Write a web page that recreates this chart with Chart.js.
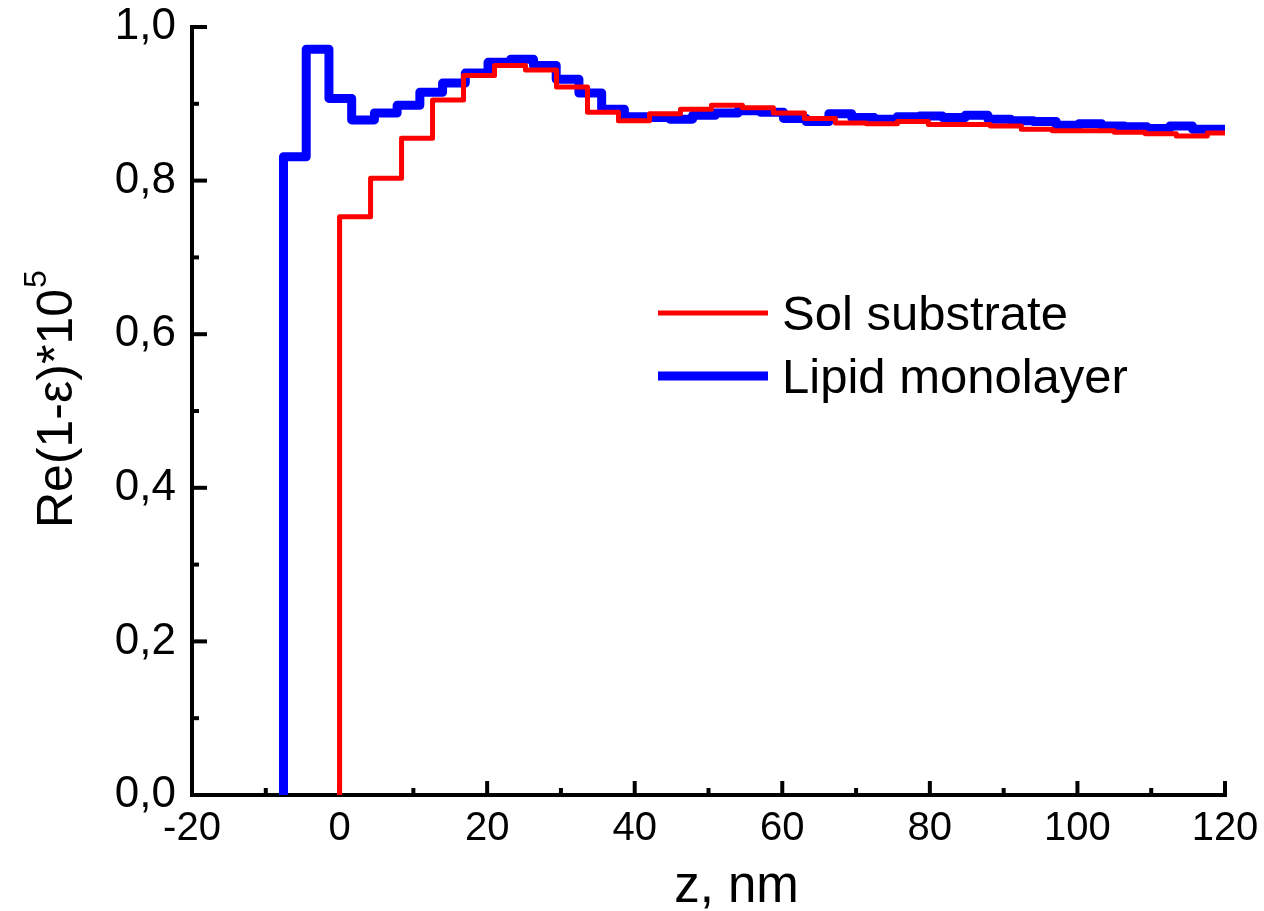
<!DOCTYPE html>
<html>
<head>
<meta charset="utf-8">
<script src="https://cdn.jsdelivr.net/npm/chart.js@4.4.1/dist/chart.umd.min.js"></script>
<style>
  html, body { margin: 0; padding: 0; background: #fff; }
  canvas { display: block; }
</style>
</head>
<body>
<canvas id="chart" width="1264" height="911"></canvas>
<script>
// Sol substrate (red) : bords gauches des marches + valeurs
const solX = [0, 0, 4.2, 8.4, 12.6, 16.8, 21.0, 25.2, 29.4, 33.6, 37.8, 42.0, 46.2, 50.4, 54.6, 58.8,
  63.0, 67.2, 71.4, 75.6, 79.8, 84.0, 88.2, 92.4, 96.6, 100.8, 105.0, 109.2, 113.4, 117.6, 120];
const solY = [0, 0.753, 0.803, 0.855, 0.905, 0.937, 0.950, 0.944, 0.922, 0.889, 0.878, 0.887, 0.893, 0.898, 0.895, 0.888,
  0.881, 0.875, 0.874, 0.877, 0.873, 0.873, 0.871, 0.867, 0.865, 0.865, 0.863, 0.861, 0.858, 0.862, 0.862];

// Lipid monolayer (blue)
const lipidX = [-7.6, -7.6, -4.52, -1.44, 1.64, 4.72, 7.8, 10.88, 13.96, 17.04, 20.12, 23.2, 26.28, 29.36, 32.44,
  35.52, 38.6, 41.68, 44.76, 47.84, 50.92, 54.0, 57.08, 60.16, 63.24, 66.32, 69.4, 72.48, 75.56, 78.64,
  81.72, 84.8, 87.88, 90.96, 94.04, 97.12, 100.2, 103.28, 106.36, 109.44, 112.52, 115.6, 118.68, 120];
const lipidY = [0, 0.831, 0.971, 0.907, 0.879, 0.888, 0.898, 0.915, 0.927, 0.940, 0.954, 0.958, 0.950, 0.932, 0.914,
  0.893, 0.883, 0.882, 0.880, 0.885, 0.888, 0.891, 0.889, 0.881, 0.877, 0.887, 0.882, 0.880, 0.883, 0.884,
  0.882, 0.885, 0.880, 0.878, 0.877, 0.872, 0.874, 0.871, 0.870, 0.868, 0.871, 0.867, 0.867, 0.867];

const seriesLabels = ['Sol substrate', 'Lipid monolayer'];
const xTitle = 'z, nm';
const yTitle = 'Re(1-\u03b5)*10';
const yTitleSup = '5';

const FONT = '"Liberation Sans", Arial, sans-serif';

const toPoints = (xs, ys) => xs.map((x, i) => ({ x: x, y: ys[i] }));

// axes, petites graduations, titres et légende
const decorPlugin = {
  id: 'decor',
  beforeDatasetsDraw(chart) {
    const { ctx, chartArea: a, scales: { x, y } } = chart;
    ctx.save();
    ctx.strokeStyle = '#000';
    ctx.lineWidth = 4;
    ctx.lineCap = 'square';
    ctx.beginPath();
    ctx.moveTo(a.left, a.top);
    ctx.lineTo(a.left, a.bottom);
    ctx.lineTo(a.right, a.bottom);
    ctx.stroke();

    ctx.lineCap = 'butt';
    const yt = y.ticks.map(t => t.value);
    yt.forEach((v, i) => {
      const py = y.getPixelForValue(v);
      ctx.beginPath(); ctx.moveTo(a.left, py); ctx.lineTo(a.left + 15, py); ctx.stroke();
      if (i > 0) {
        const pm = y.getPixelForValue((v + yt[i - 1]) / 2);
        ctx.beginPath(); ctx.moveTo(a.left, pm); ctx.lineTo(a.left + 7, pm); ctx.stroke();
      }
    });
    const xt = x.ticks.map(t => t.value);
    xt.forEach((v, i) => {
      const px = x.getPixelForValue(v);
      ctx.beginPath(); ctx.moveTo(px, a.bottom); ctx.lineTo(px, a.bottom - 14); ctx.stroke();
      if (i > 0) {
        const pm = x.getPixelForValue((v + xt[i - 1]) / 2);
        ctx.beginPath(); ctx.moveTo(pm, a.bottom); ctx.lineTo(pm, a.bottom - 7); ctx.stroke();
      }
    });
    ctx.restore();
  },
  afterDraw(chart) {
    const { ctx, chartArea: a } = chart;
    ctx.save();
    ctx.fillStyle = '#000';
    ctx.textBaseline = 'alphabetic';

    // titre axe x
    ctx.font = '51px ' + FONT;
    ctx.textAlign = 'center';
    ctx.fillText(xTitle, (a.left + a.right) / 2 + 28, 902);

    // titre axe y (avec exposant)
    ctx.translate(72, 528);
    ctx.rotate(-Math.PI / 2);
    ctx.textAlign = 'left';
    ctx.font = '50px ' + FONT;
    ctx.fillText(yTitle, 0, 0);
    const w = ctx.measureText(yTitle).width;
    ctx.font = '32px ' + FONT;
    ctx.fillText(yTitleSup, w + 1, -26);
    ctx.setTransform(1, 0, 0, 1, 0, 0);

    // légende
    ctx.font = '49px ' + FONT;
    ctx.textAlign = 'left';
    const rows = [313, 376];
    chart.data.datasets.forEach((ds, i) => {
      ctx.strokeStyle = ds.borderColor;
      ctx.lineWidth = ds.borderWidth;
      ctx.beginPath();
      ctx.moveTo(658, rows[i]);
      ctx.lineTo(768, rows[i]);
      ctx.stroke();
      ctx.fillText(ds.label, 782, rows[i] + 17);
    });
    ctx.restore();
  }
};

new Chart(document.getElementById('chart'), {
  type: 'line',
  data: {
    datasets: [
      {
        label: seriesLabels[0],
        data: toPoints(solX, solY),
        borderColor: '#ff0000',
        borderWidth: 5,
        stepped: 'before',
        pointRadius: 0,
        borderJoinStyle: 'round',
        fill: false
      },
      {
        label: seriesLabels[1],
        data: toPoints(lipidX, lipidY),
        borderColor: '#0000ff',
        borderWidth: 9,
        stepped: 'before',
        pointRadius: 0,
        borderJoinStyle: 'round',
        fill: false
      }
    ]
  },
  options: {
    responsive: false,
    maintainAspectRatio: false,
    animation: false,
    layout: { padding: { top: 27, right: 39, left: 0, bottom: 0 } },
    plugins: { legend: { display: false }, tooltip: { enabled: false } },
    scales: {
      x: {
        type: 'linear',
        min: -20,
        max: 120,
        grid: { display: false, drawTicks: false },
        border: { display: false },
        ticks: {
          stepSize: 20,
          padding: 10,
          color: '#000',
          font: { family: FONT, size: 40 },
          maxRotation: 0
        },
        afterFit: s => { s.height = 116; s.paddingLeft = 0; s.paddingRight = 0; }
      },
      y: {
        type: 'linear',
        min: 0,
        max: 1,
        grid: { display: false, drawTicks: false },
        border: { display: false },
        ticks: {
          stepSize: 0.2,
          padding: 16,
          color: '#000',
          font: { family: FONT, size: 44 },
          callback: v => v.toFixed(1).replace('.', ',')
        },
        afterFit: s => { s.width = 192; s.paddingTop = 0; s.paddingBottom = 0; }
      }
    }
  },
  plugins: [decorPlugin]
});
</script>
</body>
</html>
